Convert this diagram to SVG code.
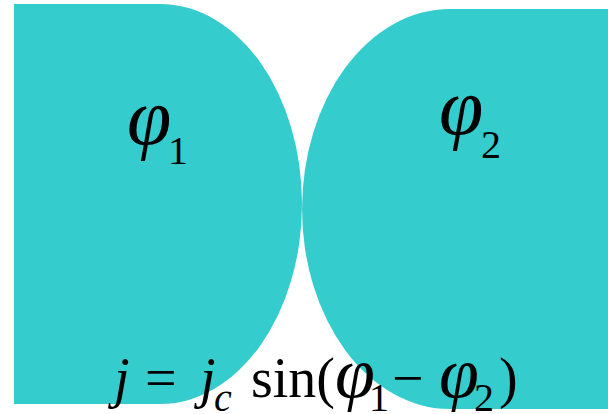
<svg xmlns="http://www.w3.org/2000/svg" width="608" height="414" viewBox="0 0 608 414">
<style>
.sc{fill:#35CCCD;stroke:none}
.t{font-family:"Liberation Serif","Times New Roman",serif;fill:#000}
.i{font-style:italic}
.p{font-style:italic}
</style>
<rect width="608" height="414" fill="#fff"/>
<g id="junction1">
<path class="sc" d="M14,4 H160 A142,200 0 0 1 160,404 H14 Z"/>
<text class="t" y="144" font-size="80"><tspan class="p" x="127">φ</tspan><tspan font-size="40" x="168" dy="20">1</tspan></text>
</g>
<g id="junction2">
<path class="sc" d="M608,9 H450 A148,200 0 0 0 450,409 H608 Z"/>
<text class="t" y="134" font-size="80"><tspan class="p" x="439">φ</tspan><tspan font-size="40" x="481" dy="24">2</tspan></text>
</g>
<g id="equation">
<text class="t" y="397" font-size="56"><tspan class="i" x="114">j</tspan><tspan x="145">=</tspan><tspan class="i" x="200">j</tspan><tspan class="i" font-size="40" x="214" dy="14">c</tspan><tspan x="251" dy="-14">sin(</tspan><tspan class="p" x="335" font-size="72">φ</tspan><tspan font-size="40" x="369" dy="14">1</tspan><tspan x="392" dy="-14">−</tspan><tspan class="p" x="439" font-size="72">φ</tspan><tspan font-size="40" x="474" dy="14">2</tspan><tspan x="499" dy="-14">)</tspan></text>
</g>
</svg>
